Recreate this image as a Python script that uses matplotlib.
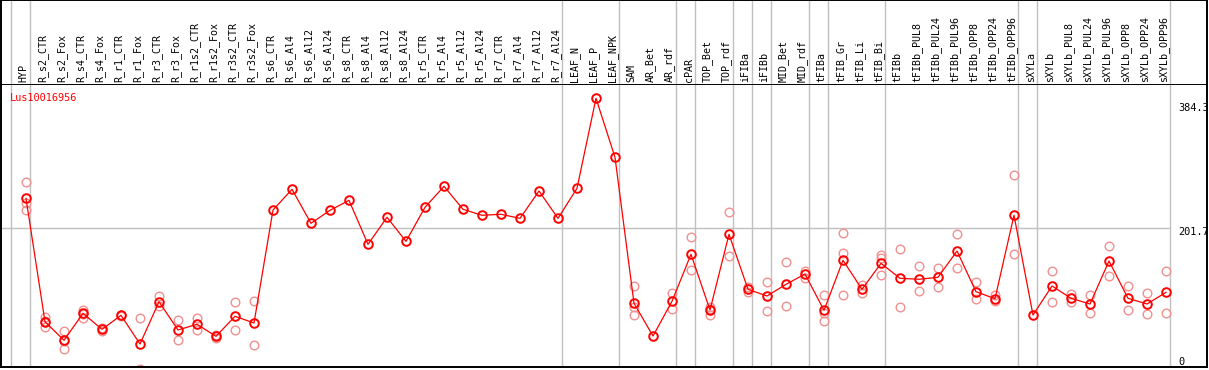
import matplotlib

matplotlib.use("Agg")
import matplotlib.pyplot as plt
import numpy as np

TITLE = "Lus10016956"

SAMPLES = [
    "HYP",
    "R_s2_CTR", "R_s2_Fox", "R_s4_CTR", "R_s4_Fox", "R_r1_CTR", "R_r1_Fox",
    "R_r3_CTR", "R_r3_Fox", "R_r1s2_CTR", "R_r1s2_Fox", "R_r3s2_CTR", "R_r3s2_Fox",
    "R_s6_CTR", "R_s6_Al4", "R_s6_Al12", "R_s6_Al24",
    "R_s8_CTR", "R_s8_Al4", "R_s8_Al12", "R_s8_Al24",
    "R_r5_CTR", "R_r5_Al4", "R_r5_Al12", "R_r5_Al24",
    "R_r7_CTR", "R_r7_Al4", "R_r7_Al12", "R_r7_Al24",
    "LEAF_N", "LEAF_P", "LEAF_NPK",
    "SAM", "AR_Bet", "AR_rdf",
    "cPAR",
    "TOP_Bet", "TOP_rdf",
    "iFIBa",
    "iFIBb",
    "MID_Bet", "MID_rdf",
    "tFIBa",
    "tFIB_Gr", "tFIB_Li", "tFIB_Bi",
    "tFIBb", "tFIBb_PUL8", "tFIBb_PUL24", "tFIBb_PUL96", "tFIBb_OPP8", "tFIBb_OPP24", "tFIBb_OPP96",
    "sXYLa",
    "sXYLb", "sXYLb_PUL8", "sXYLb_PUL24", "sXYLb_PUL96", "sXYLb_OPP8", "sXYLb_OPP24", "sXYLb_OPP96",
]

# samples per separated block
GROUP_SIZES = [1, 28, 3, 3, 1, 2, 1, 1, 2, 1, 3, 7, 1, 7]

MEANS = [
    243.8,
    70.5, 44.4, 82.3, 59.8, 79.5, 39.2, 98.6, 58.9, 66.9, 50.0, 78.1, 68.7,
    227.4, 256.5, 208.7, 227.0,
    241.0, 179.2, 217.2, 183.4,
    231.2, 260.7, 228.4, 220.0,
    221.4, 215.7, 254.1, 215.7,
    257.9, 384.3, 301.4,
    96.4, 50.4, 99.2,
    165.2,
    86.9, 193.3,
    116.0,
    106.6,
    123.0, 137.5,
    86.5,
    156.8, 116.0, 152.5,
    131.5, 130.1, 132.9, 169.8, 112.7, 102.8, 220.0,
    79.9,
    120.7, 103.4, 95.4, 155.8, 103.4, 95.4, 111.8,
]

REPLICATES = [
    [266.3, 237.0, 227.0],
    [77.5, 71.0, 62.7], [57.0, 44.0, 32.6], [87.0, 82.0, 76.1], [61.0, 58.0], [80.0, 79.0],
    [75.3, 3.7], [106.6, 93.0], [72.5, 44.8], [75.3, 58.4], [51.5, 48.3], [97.8, 58.4],
    [99.2, 37.8],
    [], [], [], [],
    [], [], [], [],
    [], [], [], [],
    [], [], [], [],
    [], [], [],
    [120.7, 91.6, 79.5], [], [110.4, 87.9],
    [189.1, 142.7],
    [91.6, 89.0, 79.9], [224.2, 162.4],
    [119.7, 111.8],
    [125.9, 85.1],
    [153.9, 92.6], [142.1, 132.3],
    [108.0, 82.3, 71.5],
    [194.7, 166.6, 108.0], [122.1, 110.4], [164.2, 159.6, 136.1],
    [172.6, 90.7], [148.7, 113.2], [145.5, 119.7], [193.3, 145.5], [125.9, 101.9],
    [108.0, 100.0], [276.1, 165.2],
    [],
    [141.3, 97.8], [109.4, 98.6], [108.0, 82.3], [176.4, 134.3], [120.3, 86.5],
    [110.4, 80.9], [141.3, 82.3],
]

Y_TICKS = [384.3, 201.7, 0]
Y_GRID = 201.7

W, H = 1209, 370
MONO = "DejaVu Sans Mono"
GRID_COLOR = "#c0c0c0"


def main() -> None:
    fig = plt.figure(figsize=(W / 100, H / 100), dpi=100)
    x = np.arange(len(SAMPLES))
    xlim = ((1 - 26) / 19, (1207 - 26) / 19)
    left, width = 1 / W, 1206 / W

    ax_h = fig.add_axes([left, (H - 85) / H, width, 85 / H])
    ax = fig.add_axes([left, 3 / H, width, 282 / H])

    ends = np.concatenate([[-1], np.cumsum(GROUP_SIZES) - 1]) + 0.21
    for a in (ax_h, ax):
        a.set_xlim(*xlim)
        a.set_xticks([])
        a.set_yticks([])
        for s in a.spines.values():
            s.set_color("black")
            s.set_linewidth(1.4)
        for e in ends:
            a.axvline(e, color=GRID_COLOR, lw=1.0, zorder=0)
    ax.spines["top"].set_visible(False)

    # header labels
    ax_h.set_ylim(0, 1)
    for xi, lab in zip(x, SAMPLES):
        ax_h.text(xi - 0.13, 0.03, lab, rotation=90, ha="center", va="bottom",
                  family=MONO, fontsize=7.2, color="black")

    ax.set_ylim(6.9, 403.0)
    ax.hlines(Y_GRID, xlim[0], ends[-1], color=GRID_COLOR, lw=1.0, zorder=0)

    for xi, reps in zip(x, REPLICATES):
        if reps:
            ax.plot([xi] * len(reps), reps, linestyle="none", marker="o", ms=6.2,
                    mfc="none", mec="#f09090", mew=1.0, zorder=2, clip_on=True)

    ax.plot(x, MEANS, color="#ff0000", lw=0.9, marker="o", ms=6.2, mfc="none",
            mec="#ff0000", mew=1.4, zorder=3)

    ax.text(9 / 1206, 1 - 12.7 / 282, TITLE, transform=ax.transAxes, color="#ff0000",
            family=MONO, fontsize=7.4, ha="left", va="center")

    tick_y = [108, 232, 362]
    for val, py in zip(Y_TICKS, tick_y):
        fig.text(1178 / W, 1 - py / H, f"{val:g}", family=MONO, fontsize=7.4,
                 ha="left", va="center", color="black")

    fig.savefig("out.png", dpi=100)
    plt.close(fig)


if __name__ == "__main__":
    main()
